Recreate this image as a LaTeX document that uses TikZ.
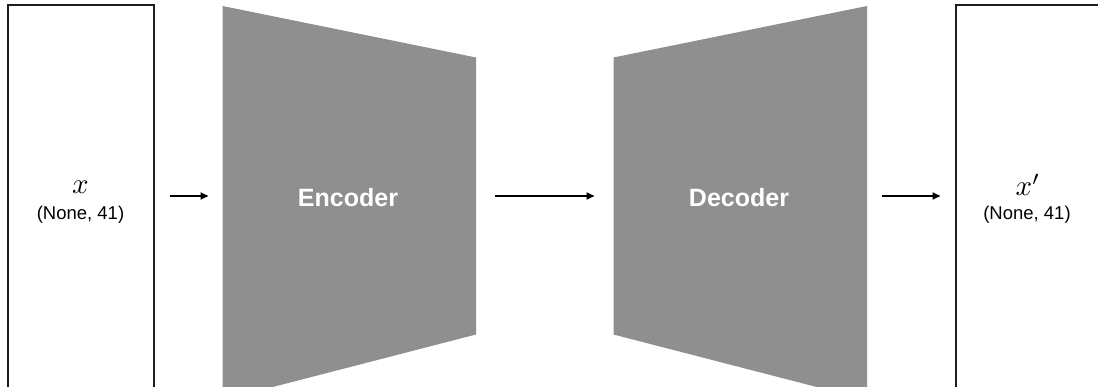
\documentclass[tikz,border=0pt]{standalone}
\usepackage{fontspec}
\setmainfont{Liberation Sans}
\usetikzlibrary{arrows.meta}
\definecolor{trapgray}{RGB}{143,143,143}
\definecolor{boxline}{RGB}{30,30,30}
\tikzset{
  iobox/.style={draw=boxline, line width=2pt, fill=white},
  trap/.style={fill=trapgray, draw=none},
  traplabel/.style={text=white, font=\fontsize{25}{28}\selectfont\bfseries},
  varlabel/.style={scale=2.9},
  shapelabel/.style={font=\fontsize{18.5}{21}\selectfont},
  conn/.style={line width=1.8pt, -{Triangle[length=8pt,width=7pt]}}
}
\begin{document}
\begin{tikzpicture}[x=1pt,y=-1pt]
\useasboundingbox (0,0) rectangle (1098,387);
\clip (0,0) rectangle (1098,387);
\fill[white] (0,0) rectangle (1098,387);
% input / output boxes
\draw[iobox] (7.5,5.5) rectangle (154,400);
\draw[iobox] (955.5,5.5) rectangle (1110,400);
\coordinate (inE) at (154,196);
\coordinate (outW) at (955.5,196);
% encoder / decoder trapezoids
\fill[trap] (222.5,6) -- (476,57.5) -- (476,334.5) -- (222.5,400) -- cycle;
\fill[trap] (613.5,57.5) -- (867,6) -- (867,400) -- (613.5,334.5) -- cycle;
\coordinate (encW) at (222.5,196);
\coordinate (encE) at (476,196);
\coordinate (decW) at (613.5,196);
\coordinate (decE) at (867,196);
% labels
\node[varlabel] (xin) at (80.5,187) {$x$};
\node[shapelabel] (sin) at (80.5,215) {(None, 41)};
\node[traplabel] (enc) at (348,198) {Encoder};
\node[traplabel] (dec) at (739,198) {Decoder};
\node[varlabel] (xout) at (1028,185) {$x'$};
\node[shapelabel] (sout) at (1027,215) {(None, 41)};
% connectors
\draw[conn, shorten <=16pt, shorten >=14pt] (inE) -- (encW);
\draw[conn, shorten <=19pt, shorten >=19pt] (encE) -- (decW);
\draw[conn, shorten <=15pt, shorten >=15pt] (decE) -- (outW);
\end{tikzpicture}
\end{document}
